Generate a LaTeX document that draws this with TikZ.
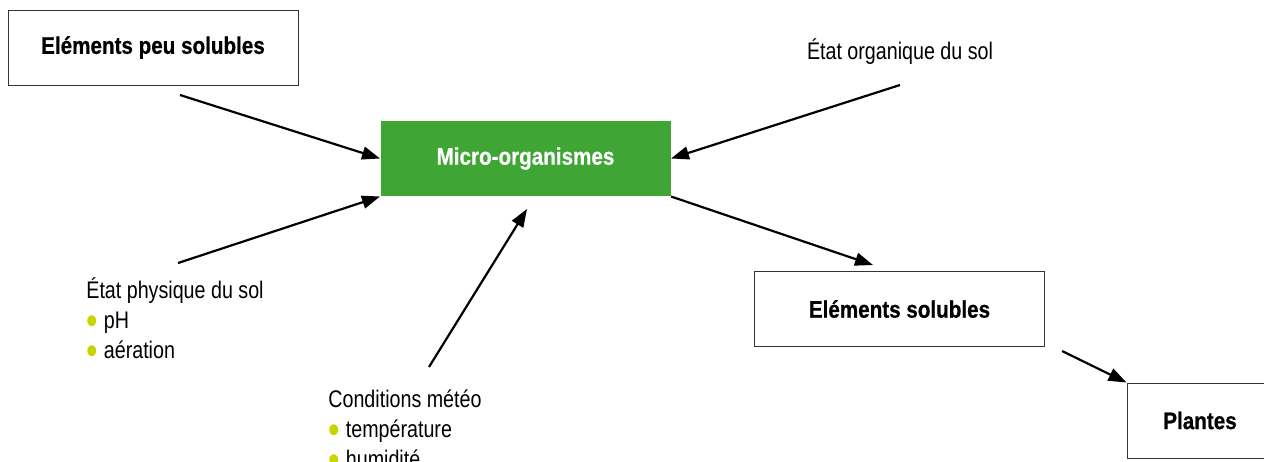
\documentclass[tikz,border=0pt]{standalone}
\usepackage{fontspec}
\setmainfont{Liberation Sans}[FakeStretch=0.82, BoldFeatures={FakeStretch=0.86, FakeBold=0.6}]
\usetikzlibrary{arrows.meta,positioning}
\definecolor{microgreen}{RGB}{63,165,53}
\definecolor{puce}{RGB}{200,212,0}
\newcommand{\bul}{\smash{\raisebox{-3pt}{\fontsize{20}{15}\selectfont\color{puce}\textbullet}}\hspace{3pt}}

\begin{document}
\begin{tikzpicture}[x=0.5pt, y=-0.5pt,
		every node/.style={font=\fontsize{12}{15}\selectfont},
		box/.style={draw=black!80, line width=0.5pt, minimum width=145pt, minimum height=37.5pt, font=\fontsize{12}{15}\selectfont\bfseries},
		fleche/.style={-{Triangle[length=9pt,width=6.5pt]}, line width=1.1pt},
		liste/.style={align=left, anchor=base west, inner sep=0pt}]
		\useasboundingbox (0,0) rectangle (1264,461);
		
		\node[box](PEU) at (153,47.5){Eléments peu solubles};
		\node[box, fill=microgreen, draw=none, text=white](MICRO) at (525.5,158.5){Micro-organismes};
		\node[box](SOL) at (899.5,309){Eléments solubles};
		\node[box, minimum width=73pt](PLA) at (1200,420.5){Plantes};
		
		% base = last line
		\node[anchor=base, inner sep=0pt](ORG) at (900,59){État organique du sol};
		\node[liste](PHYS) at (86,358){État physique du sol\\\bul pH\\\bul aération};
		\node[liste](METEO) at (328,467){Conditions météo\\\bul température\\\bul humidité};
		
		\coordinate(PEUb) at (180,95);
		\coordinate(ORGb) at (900,85);
		\coordinate(PHYSb) at (178,263);
		\coordinate(METEOb) at (429,367);
		\coordinate(METEOc) at (527,209);
		\coordinate(SOLb) at (873,265);
		\coordinate(SOLc) at (1062,351);
		
		\draw[fleche] (PEUb) -- (MICRO.west);
		\draw[fleche] (PHYSb) -- (MICRO.south west);
		\draw[fleche] (METEOb) -- (METEOc);
		\draw[fleche] (ORGb) -- (MICRO.east);
		\draw[fleche] (MICRO.south east) -- (SOLb);
		\draw[fleche] (SOLc) -- (PLA.north west);
		\end{tikzpicture}
\end{document}
